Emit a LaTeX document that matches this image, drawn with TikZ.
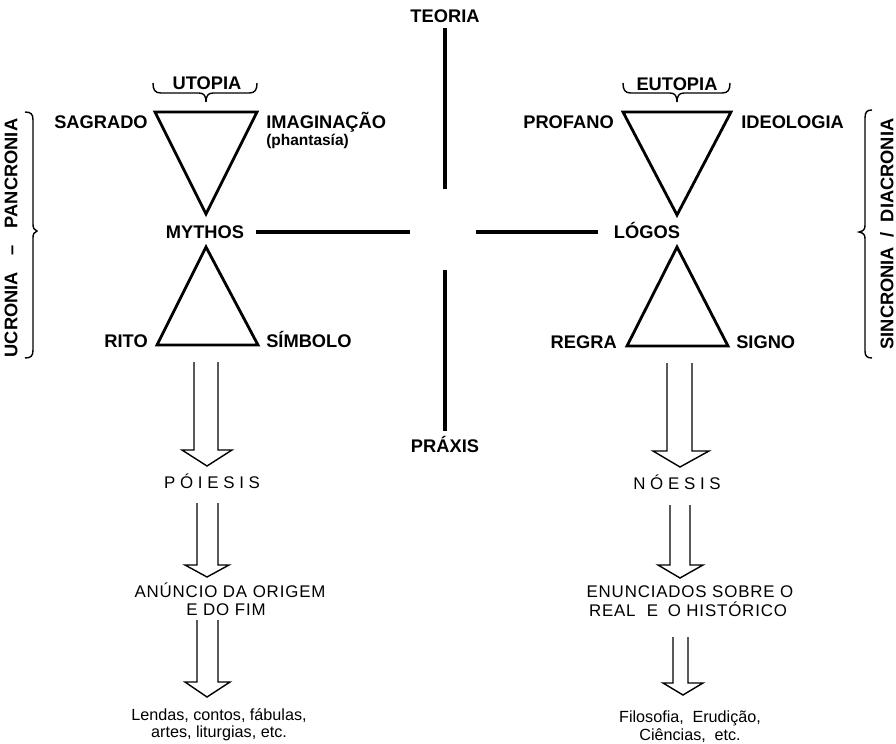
\documentclass[tikz,border=0pt]{standalone}
\usepackage{fontspec}
\setmainfont{Liberation Sans}
\newfontfamily\spcfont[LetterSpace=28]{Liberation Sans}
\newfontfamily\spcsmall[LetterSpace=5]{Liberation Sans}
\newcommand{\hollowarr}[8]{\draw[harrow] (#1,#3) -- (#1,#4) -- (#5,#4) -- (#7,#8) -- (#6,#4) -- (#2,#4) -- (#2,#3);}
\begin{document}
\begin{tikzpicture}[x=0.025cm,y=-0.025cm,
  lab/.style={font=\bfseries\fontsize{13}{15}\selectfont, inner sep=0pt},
  small/.style={font=\bfseries\fontsize{11}{13}\selectfont, inner sep=0pt},
  low/.style={font=\spcsmall\fontsize{12}{14}\selectfont, inner sep=0pt},
  lowsp/.style={font=\spcfont\fontsize{12}{14}\selectfont, inner sep=0pt},
  foot/.style={font=\fontsize{11.5}{13}\selectfont, inner sep=0pt},
  tri/.style={line width=2pt, line join=miter},
  bar/.style={line width=2.2pt},
  harrow/.style={line width=1pt, line join=miter},
  brc/.style={line width=1pt}]
\useasboundingbox (0,0) rectangle (896,744);
\fill[white] (0,0) rectangle (896,744);

% central cross
\node[lab, anchor=base] (teoria) at (445,22) {TEORIA};
\node[lab, anchor=base] (praxis) at (445,452) {PRÁXIS};
\coordinate (vt1) at (445,28);
\coordinate (vt2) at (445,189);
\coordinate (vb1) at (445,270);
\coordinate (vb2) at (445,431);
\coordinate (hl1) at (256,232);
\coordinate (hl2) at (410,232);
\coordinate (hr1) at (476,232);
\coordinate (hr2) at (598,232);
\draw[bar] (vt1) -- (vt2);
\draw[bar] (vb1) -- (vb2);
\draw[bar] (hl1) -- (hl2);
\draw[bar] (hr1) -- (hr2);

% left triangles
\coordinate (l1) at (155,112);
\coordinate (l2) at (257,112);
\coordinate (l3) at (206,214);
\coordinate (l4) at (206,247);
\coordinate (l5) at (157,345);
\coordinate (l6) at (258,345);
\draw[tri] (l1) -- (l2) -- (l3) -- cycle;
\draw[tri] (l4) -- (l5) -- (l6) -- cycle;

% right triangles
\coordinate (r1) at (623,112);
\coordinate (r2) at (731,112);
\coordinate (r3) at (677,215);
\coordinate (r4) at (677,247);
\coordinate (r5) at (627,346);
\coordinate (r6) at (728,346);
\draw[tri] (r1) -- (r2) -- (r3) -- cycle;
\draw[tri] (r4) -- (r5) -- (r6) -- cycle;

% left labels
\node[lab, anchor=base] (utopia) at (207,89) {UTOPIA};
\node[lab, anchor=base east] (sagrado) at (148,128) {SAGRADO};
\node[lab, anchor=base west] (imag) at (266,128) {IMAGINAÇÃO};
\node[small, anchor=base west] (phant) at (266,145) {(phantasía)};
\node[lab, anchor=base] (mythos) at (205,238) {MYTHOS};
\node[lab, anchor=base east] (rito) at (148,347) {RITO};
\node[lab, anchor=base west] (simbolo) at (266,347) {SÍMBOLO};

% right labels
\node[lab, anchor=base] (eutopia) at (677,90) {EUTOPIA};
\node[lab, anchor=base east] (profano) at (614,128) {PROFANO};
\node[lab, anchor=base west] (ideol) at (741,128) {IDEOLOGIA};
\node[lab, anchor=base] (logos) at (647,238) {LÓGOS};
\node[lab, anchor=base east] (regra) at (617,348) {REGRA};
\node[lab, anchor=base west] (signo) at (736,348) {SIGNO};

% horizontal braces
\draw[brc] (153,83) .. controls (153,90) and (155,93) .. (161,93) -- (199,93)
  .. controls (204,93) and (206,96) .. (206,102)
  .. controls (206,96) and (208,93) .. (213,93) -- (249,93)
  .. controls (255,93) and (257,90) .. (257,83);
\draw[brc] (623,83) .. controls (623,90) and (625,93) .. (631,93) -- (670,93)
  .. controls (675,93) and (677,96) .. (677,102)
  .. controls (677,96) and (679,93) .. (684,93) -- (722,93)
  .. controls (728,93) and (730,90) .. (730,83);

% vertical braces
\draw[brc] (25,112) .. controls (31,112) and (33,114) .. (33,120) -- (33,224)
  .. controls (33,228) and (34,230) .. (37,231)
  .. controls (34,232) and (33,234) .. (33,238) -- (33,350)
  .. controls (33,356) and (31,358) .. (25,358);
\draw[brc] (872,110) .. controls (867,110) and (865,112) .. (865,118) -- (865,225)
  .. controls (865,229) and (864,231) .. (859,232)
  .. controls (864,233) and (865,235) .. (865,239) -- (865,351)
  .. controls (865,356) and (867,358) .. (872,358);
\node[lab, rotate=90] (ucronia) at (11,238) {UCRONIA\hspace{12pt}–\hspace{12pt}PANCRONIA};
\node[lab, rotate=90] (sincronia) at (887,234) {SINCRONIA\hspace{7pt}/\hspace{7pt}DIACRONIA};

% left column arrows and texts
\hollowarr{194}{218}{362}{450}{182}{232}{207}{466}
\node[lowsp, anchor=base] (poiesis) at (212,488) {PÓIESIS};
\hollowarr{197}{218}{503}{565}{185}{229}{207}{577}
\node[low, anchor=base] (anuncio1) at (230,597) {ANÚNCIO DA ORIGEM};
\node[low, anchor=base] (anuncio2) at (226,615) {E DO FIM};
\hollowarr{197}{218}{620}{682}{185}{230}{207}{697}
\node[foot, anchor=base] (lendas1) at (219,720) {Lendas, contos, fábulas,};
\node[foot, anchor=base] (lendas2) at (219,737) {artes, liturgias, etc.};

% right column arrows and texts
\hollowarr{667}{692}{363}{451}{653}{709}{680}{467}
\node[lowsp, anchor=base] (noesis) at (677,489) {NÓESIS};
\hollowarr{670}{690}{505}{565}{658}{703}{680}{578}
\node[low, anchor=base] (enunc1) at (690,597) {ENUNCIADOS SOBRE O};
\node[low, anchor=base] (enunc2) at (688,616) {REAL\hspace{4pt} E\hspace{3pt} O HISTÓRICO};
\hollowarr{673}{688}{637}{683}{663}{703}{683}{695}
\node[foot, anchor=base] (filo1) at (690,722) {Filosofia,\hspace{3pt} Erudição,};
\node[foot, anchor=base] (filo2) at (690,740) {Ciências,\hspace{3pt} etc.};
\end{tikzpicture}
\end{document}
